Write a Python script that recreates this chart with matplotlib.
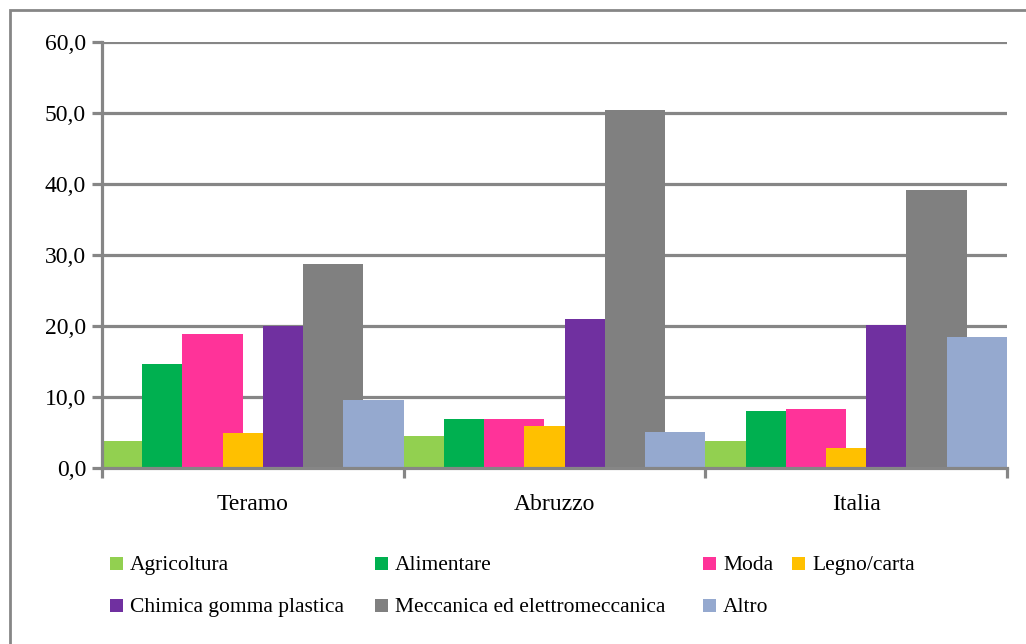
import matplotlib
matplotlib.use("Agg")
import matplotlib.pyplot as plt
from matplotlib.patches import Rectangle
from matplotlib.ticker import FuncFormatter, FixedLocator

categories = ["Teramo", "Abruzzo", "Italia"]
series_names = ["Agricoltura", "Alimentare", "Moda", "Legno/carta",
                "Chimica gomma plastica", "Meccanica ed elettromeccanica", "Altro"]
agricoltura = [3.8, 4.5, 3.8]
alimentare = [14.7, 6.9, 8.0]
moda = [18.9, 6.9, 8.3]
legno_carta = [4.9, 5.9, 2.8]
chimica = [20.0, 21.0, 20.2]
meccanica = [28.7, 50.4, 39.1]
altro = [9.6, 5.1, 18.5]
series_values = [agricoltura, alimentare, moda, legno_carta, chimica, meccanica, altro]
y_ticks = [0, 10, 20, 30, 40, 50, 60]

colors = ["#92D050", "#00B050", "#FF3399", "#FFC000", "#7030A0", "#808080", "#95A9CF"]
grid_c = "#868686"

W, H = 1026, 644
fig = plt.figure(figsize=(W / 100, H / 100), dpi=100)
plt.rcParams['font.family'] = ['Liberation Serif', 'DejaVu Serif']

ax = fig.add_axes([102 / W, 1 - 468 / H, (1007 - 102) / W, (468 - 42) / H])

n = len(series_names)
bw = 0.2
step = (1 - bw) / (n - 1)
for j, (vals, c) in enumerate(zip(series_values, colors)):
    xs = [i + j * step for i in range(len(categories))]
    ax.bar(xs, vals, width=bw, align="edge", color=c, zorder=3 + j, linewidth=0)

ax.set_xlim(0, len(categories))
ax.set_ylim(0, 60)
ax.set_yticks(y_ticks)
ax.yaxis.set_major_formatter(FuncFormatter(lambda v, p: f"{v:.1f}".replace(".", ",")))
ax.yaxis.grid(True, color=grid_c, linewidth=2.3, zorder=0)
ax.set_axisbelow(True)

ax.xaxis.set_major_locator(FixedLocator([i + 0.5 for i in range(len(categories))]))
ax.set_xticklabels(categories)
ax.xaxis.set_minor_locator(FixedLocator(list(range(len(categories) + 1))))
ax.tick_params(axis="x", which="major", length=0, pad=19, labelsize=17)
ax.tick_params(axis="x", which="minor", length=7.5, width=2.3, color=grid_c)
ax.tick_params(axis="y", which="major", length=7.5, width=2.3, color=grid_c, labelsize=17, pad=4)

for s in ["top", "right"]:
    ax.spines[s].set_visible(False)
for s in ["left", "bottom"]:
    ax.spines[s].set_color(grid_c)
    ax.spines[s].set_linewidth(2.3)
    ax.spines[s].set_zorder(20)

# outer frame
fig.patches.append(Rectangle((10 / W, -0.1), 1.2, 1 - 10 / H + 0.1, transform=fig.transFigure,
                             fill=False, edgecolor=grid_c, linewidth=2.0))

# legend (manual)
legend_pos = [(110, 563), (375, 563), (703, 563), (792, 563),
              (110, 605), (375, 605), (703, 605)]
for name, c, (px, py) in zip(series_names, colors, legend_pos):
    fig.patches.append(Rectangle((px / W, 1 - (py + 6.5) / H), 13 / W, 13 / H,
                                 transform=fig.transFigure, facecolor=c, edgecolor="none"))
    fig.text((px + 20) / W, 1 - py / H, name, fontsize=15.5, va="center_baseline", ha="left")

fig.savefig("out.png", dpi=100)
